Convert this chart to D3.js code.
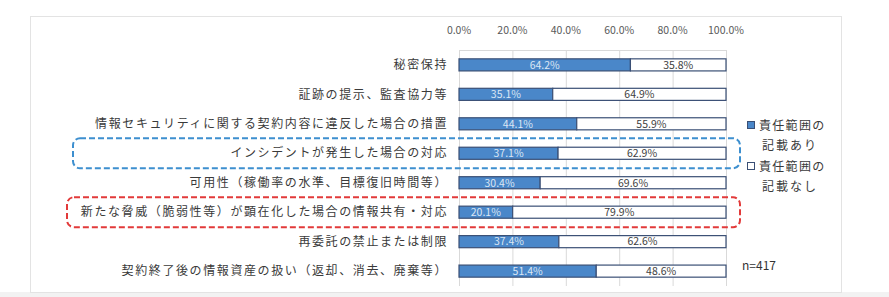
<!DOCTYPE html>
<html>
<head>
<meta charset="utf-8">
<script src="https://cdn.jsdelivr.net/npm/d3@7"></script>
<style>
  body { margin: 0; background: #fff; }
  text { font-family: "Noto Sans CJK JP", "Noto Sans", sans-serif; }
</style>
</head>
<body>
<div id="chart"></div>
<script>
// データ
const categories = [
  "秘密保持",
  "証跡の提示、監査協力等",
  "情報セキュリティに関する契約内容に違反した場合の措置",
  "インシデントが発生した場合の対応",
  "可用性（稼働率の水準、目標復旧時間等）",
  "新たな脅威（脆弱性等）が顕在化した場合の情報共有・対応",
  "再委託の禁止または制限",
  "契約終了後の情報資産の扱い（返却、消去、廃棄等）"
];
const withScope = [64.2, 35.1, 44.1, 37.1, 30.4, 20.1, 37.4, 51.4];
const withoutScope = [35.8, 64.9, 55.9, 62.9, 69.6, 79.9, 62.6, 48.6];
const tickValues = [0, 20, 40, 60, 80, 100];
const legendLabels = [["責任範囲の", "記載あり"], ["責任範囲の", "記載なし"]];
const highlightBlue = "インシデントが発生した場合の対応";
const highlightRed = "新たな脅威（脆弱性等）が顕在化した場合の情報共有・対応";
const sampleNote = "n=417";

const width = 889, height = 297;
const svg = d3.select("#chart").append("svg")
  .attr("width", width)
  .attr("height", height);

// 外枠
svg.append("rect")
  .attr("x", 0).attr("y", 292).attr("width", width).attr("height", 5)
  .attr("fill", "#f2f2f2");
svg.append("rect")
  .attr("x", 30.5).attr("y", 16.5).attr("width", 811).attr("height", 276)
  .attr("fill", "#fff").attr("stroke", "#e3e3e3");

const x = d3.scaleLinear().domain([0, 100]).range([459, 726]);
const y = d3.scaleBand().domain(categories).range([50, 286]).paddingInner(0.59).paddingOuter(0.3);

// グリッド線
svg.append("g")
  .selectAll("line")
  .data(tickValues)
  .enter()
  .append("line")
  .attr("x1", d => x(d) + 0.5).attr("x2", d => x(d) + 0.5)
  .attr("y1", 50).attr("y2", 286)
  .attr("stroke", "#d9d9d9");
svg.append("line")
  .attr("x1", x(0)).attr("x2", x(100))
  .attr("y1", 50.5).attr("y2", 50.5)
  .attr("stroke", "#d9d9d9");

// 目盛りラベル
svg.append("g")
  .selectAll("text")
  .data(tickValues)
  .enter()
  .append("text")
  .attr("x", d => x(d))
  .attr("y", 34)
  .attr("text-anchor", "middle")
  .attr("fill", "#595959")
  .style("font-size", "10.5px")
  .text(d => d.toFixed(1) + "%");

// 強調枠（破線）
function dashedBox(cat, color, left) {
  const yc = y(cat) + y.bandwidth() / 2;
  svg.append("rect")
    .attr("x", left).attr("y", yc - 15)
    .attr("width", 740 - left).attr("height", 30)
    .attr("rx", 7).attr("ry", 7)
    .attr("fill", "none")
    .attr("stroke", color)
    .attr("stroke-width", 2)
    .attr("stroke-dasharray", "6,3");
}
dashedBox(highlightBlue, "#3d8fcf", 73);
dashedBox(highlightRed, "#e23a3a", 67);

// 項目ラベル
svg.append("g")
  .selectAll("text")
  .data(categories)
  .enter()
  .append("text")
  .attr("x", 448)
  .attr("y", d => y(d) + y.bandwidth() / 2)
  .attr("dy", "0.35em")
  .attr("text-anchor", "end")
  .attr("fill", "#3a3a3a")
  .style("font-size", "12px")
  .style("letter-spacing", "1.6px")
  .text(d => d);

// 棒グラフ
const rows = categories.map((c, i) => ({ cat: c, a: withScope[i], b: withoutScope[i] }));

const bars = svg.append("g")
  .selectAll("g")
  .data(rows)
  .enter()
  .append("g");

bars.append("rect")
  .attr("x", d => x(0))
  .attr("y", d => y(d.cat))
  .attr("width", d => x(d.a) - x(0))
  .attr("height", y.bandwidth())
  .attr("fill", "#4a87c9")
  .attr("stroke", "#3a4f75")
  .attr("stroke-width", 1.2);

bars.append("rect")
  .attr("x", d => x(d.a))
  .attr("y", d => y(d.cat))
  .attr("width", d => x(d.a + d.b) - x(d.a))
  .attr("height", y.bandwidth())
  .attr("fill", "#fff")
  .attr("stroke", "#3a4f75")
  .attr("stroke-width", 1.2);

bars.append("text")
  .attr("x", d => (x(0) + x(d.a)) / 2)
  .attr("y", d => y(d.cat) + y.bandwidth() / 2)
  .attr("dy", "0.36em")
  .attr("text-anchor", "middle")
  .attr("fill", "#dbe6f4")
  .style("font-size", "10.5px")
  .text(d => d.a.toFixed(1) + "%");

bars.append("text")
  .attr("x", d => (x(d.a) + x(d.a + d.b)) / 2)
  .attr("y", d => y(d.cat) + y.bandwidth() / 2)
  .attr("dy", "0.36em")
  .attr("text-anchor", "middle")
  .attr("fill", "#404040")
  .style("font-size", "10.5px")
  .text(d => d.b.toFixed(1) + "%");

// 凡例
const legend = svg.append("g");
legendLabels.forEach((lines, i) => {
  const ly = 126 + i * 41;
  legend.append("rect")
    .attr("x", 747.5).attr("y", ly - 4.5)
    .attr("width", 7).attr("height", 7)
    .attr("fill", i === 0 ? "#4a87c9" : "#fff")
    .attr("stroke", "#3a4f75");
  legend.append("text")
    .attr("x", 759).attr("y", ly)
    .attr("dy", "0.35em")
    .attr("fill", "#3a3a3a")
    .style("font-size", "12px")
    .style("letter-spacing", "1.3px")
    .text(lines[0]);
  legend.append("text")
    .attr("x", 762).attr("y", ly + 20)
    .attr("dy", "0.35em")
    .attr("fill", "#3a3a3a")
    .style("font-size", "12px")
    .style("letter-spacing", "2px")
    .text(lines[1]);
});

svg.append("text")
  .attr("x", 742).attr("y", 266)
  .attr("dy", "0.35em")
  .attr("fill", "#333")
  .style("font-size", "12px")
  .text(sampleNote);
</script>
</body>
</html>
